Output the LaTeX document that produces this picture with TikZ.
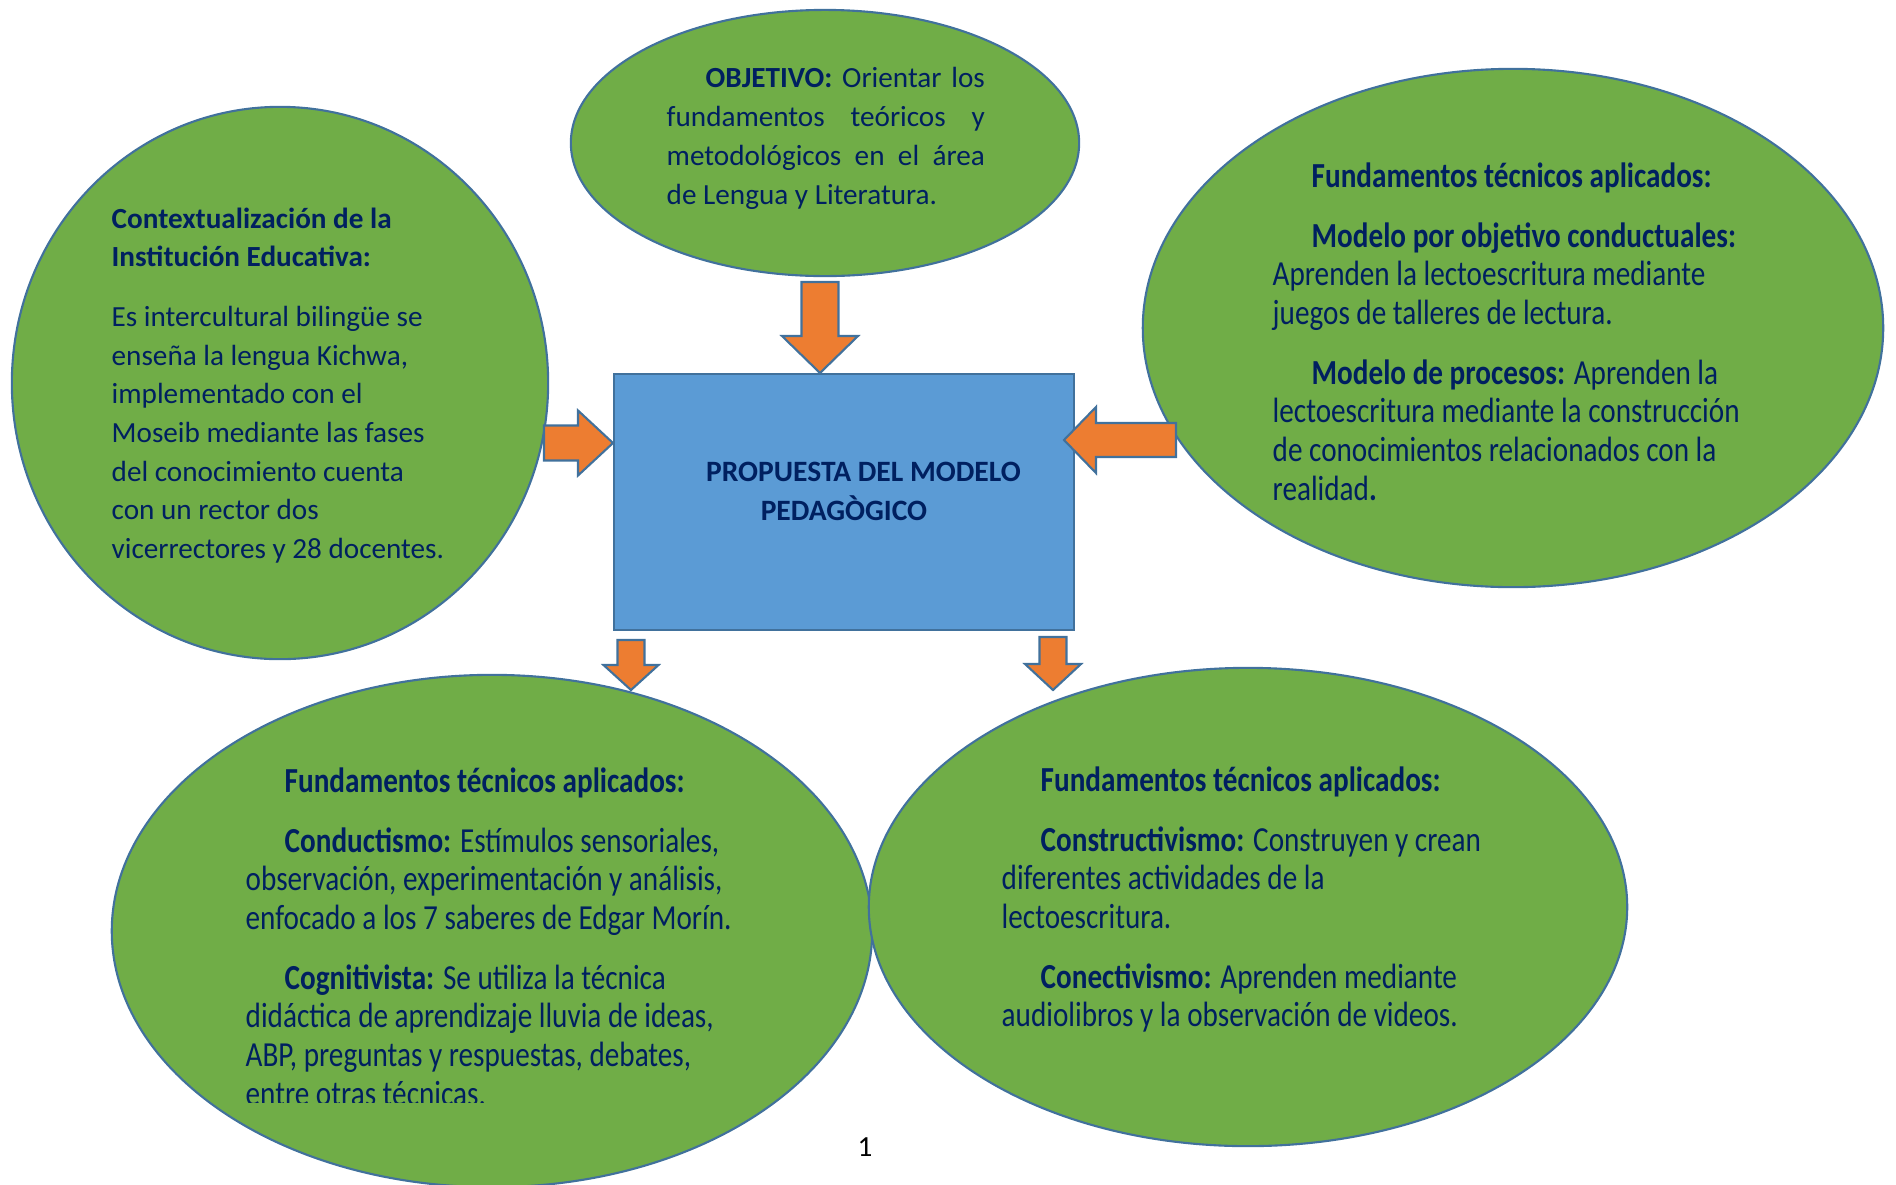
\documentclass[tikz,border=0pt]{standalone}
\usepackage{fontspec}
\setmainfont{Carlito}
\newfontfamily\altafont{Carlito}[FakeStretch=0.83]
\usetikzlibrary{shapes.geometric}

\definecolor{verdeglobo}{HTML}{70AD47}
\definecolor{bordeazul}{HTML}{41719C}
\definecolor{azulcaja}{HTML}{5B9BD5}
\definecolor{naranja}{HTML}{ED7D31}
\definecolor{tinta}{HTML}{002060}

\begin{document}
\begin{tikzpicture}[
      x=0.01cm,
      y=-0.01cm,
      globo/.style={
        ellipse,
        fill=verdeglobo,
        draw=bordeazul,
        line width=0.6pt,
        inner sep=0pt
      },
      caja/.style={
        rectangle,
        fill=azulcaja,
        draw=bordeazul,
        line width=0.6pt,
        inner sep=0pt
      },
      flecha/.style={
        fill=naranja,
        draw=bordeazul,
        line width=0.6pt,
        line join=miter
      },
      texto/.style={
        anchor=north west,
        inner sep=0pt,
        align=left,
        text=tinta,
        font=\fontsize{8.3}{11}\selectfont
      },
      textoalto/.style={
        texto,
        font=\altafont\fontsize{10}{11}\selectfont
      }
    ]
    \useasboundingbox (0,0) rectangle (1896,1184);

    \node[globo, minimum width=5.08cm, minimum height=2.66cm] (objetivo) at (825,143) {};
    \node[globo, minimum width=5.36cm, minimum height=5.52cm] (contexto) at (280,383) {};
    \node[globo, minimum width=7.40cm, minimum height=5.18cm] (modelos) at (1513,328) {};
    \node[globo, minimum width=7.60cm, minimum height=5.12cm] (conductismo) at (492,931) {};
    \node[globo, minimum width=7.58cm, minimum height=4.78cm] (constructivismo) at (1248,907) {};
    \node[caja, minimum width=4.60cm, minimum height=2.56cm] (propuesta) at (844,502) {};

    \node[texto, text width=3.18cm, align=justify] (txtobjetivo) at (666,67) {
      \hspace*{0.39cm}\textbf{OBJETIVO:} Orientar los\linebreak
      fundamentos teóricos y\linebreak
      metodológicos en el área\linebreak
      de Lengua y Literatura.
    };

    \node[texto] (txtcontexto) at (111,207) {
      \textbf{Contextualización de la}\\
      \textbf{Institución Educativa:}\\[0.21cm]
      Es intercultural bilingüe se\\
      enseña la lengua Kichwa,\\
      implementado con el\\
      Moseib mediante las fases\\
      del conocimiento cuenta\\
      con un rector dos\\
      vicerrectores y 28 docentes.
    };

    \node[textoalto] (txtmodelos) at (1272,162) {
      \hspace*{0.39cm}\textbf{Fundamentos técnicos aplicados:}\\[0.21cm]
      \hspace*{0.39cm}\textbf{Modelo por objetivo conductuales:}\\
      Aprenden la lectoescritura mediante\\
      juegos de talleres de lectura.\\[0.21cm]
      \hspace*{0.39cm}\textbf{Modelo de procesos:} Aprenden la\\
      lectoescritura mediante la construcción\\
      de conocimientos relacionados con la\\
      realidad\textbf{.}
    };

    % la ultima linea queda cortada como en el original
    \begin{scope}
      \clip (0,0) rectangle (1896,1102);
      \node[textoalto] (txtconductismo) at (245,767) {
        \hspace*{0.39cm}\textbf{Fundamentos técnicos aplicados:}\\[0.21cm]
        \hspace*{0.39cm}\textbf{Conductismo:} Estímulos sensoriales,\\
        observación, experimentación y análisis,\\
        enfocado a los 7 saberes de Edgar Morín.\\[0.21cm]
        \hspace*{0.39cm}\textbf{Cognitivista:} Se utiliza la técnica\\
        didáctica de aprendizaje lluvia de ideas,\\
        ABP, preguntas y respuestas, debates,\\
        entre otras técnicas.
      };
    \end{scope}

    \node[textoalto] (txtconstructivismo) at (1001,766) {
      \hspace*{0.39cm}\textbf{Fundamentos técnicos aplicados:}\\[0.21cm]
      \hspace*{0.39cm}\textbf{Constructivismo:} Construyen y crean\\
      diferentes actividades de la\\
      lectoescritura.\\[0.21cm]
      \hspace*{0.39cm}\textbf{Conectivismo:} Aprenden mediante\\
      audiolibros y la observación de videos.
    };

    \node[texto, anchor=north, align=center,
      font=\bfseries\fontsize{8.4}{11.2}\selectfont] (txtpropuesta) at (844,461) {
      \hspace*{0.39cm}PROPUESTA DEL MODELO\\
      PEDAGÒGICO
    };

    % flechas de bloque
    \coordinate (puntaobjetivo) at (820,373);
    \coordinate (puntacontexto) at (613,443);
    \coordinate (puntamodelos) at (1064,440);
    \coordinate (puntaconductismo) at (631,690);
    \coordinate (puntaconstructivismo) at (1053,690);

    \draw[flecha] (puntaobjetivo) -- ++(-38,-37) -- ++(19.5,0) -- ++(0,-54)
      -- ++(37,0) -- ++(0,54) -- ++(19.5,0) -- cycle;
    \draw[flecha] (puntacontexto) -- ++(-35,-32.5) -- ++(0,15) -- ++(-34,0)
      -- ++(0,35) -- ++(34,0) -- ++(0,15) -- cycle;
    \draw[flecha] (puntamodelos) -- ++(32,-33) -- ++(0,16) -- ++(80,0)
      -- ++(0,34) -- ++(-80,0) -- ++(0,16) -- cycle;
    \draw[flecha] (puntaconductismo) -- ++(-27.5,-25) -- ++(14,0) -- ++(0,-25)
      -- ++(27,0) -- ++(0,25) -- ++(14,0) -- cycle;
    \draw[flecha] (puntaconstructivismo) -- ++(-28,-26) -- ++(14.5,0) -- ++(0,-27)
      -- ++(27,0) -- ++(0,27) -- ++(14.5,0) -- cycle;

    \node[inner sep=0pt, font=\fontsize{8.3}{11}\selectfont] (pagina) at (865,1147) {1};
  \end{tikzpicture}
\end{document}
